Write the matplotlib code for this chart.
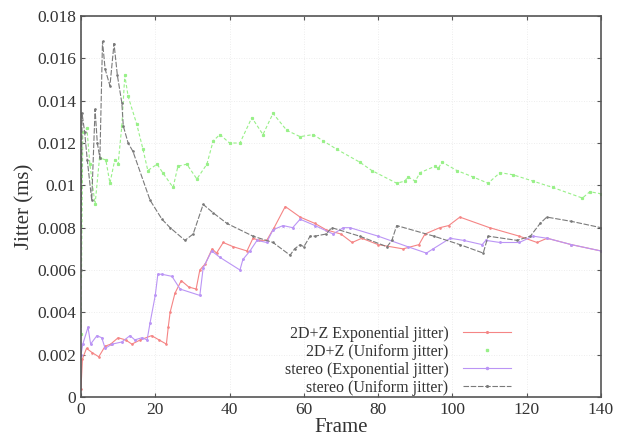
import numpy as np
import matplotlib
matplotlib.use("Agg")
from matplotlib import pyplot as plt
from matplotlib.lines import Line2D

# frame / jitter (ms) vertices
exp2d_x = [0, 0.4, 1.5, 3, 4.8, 6.5, 8, 10, 12, 13.7, 16, 19, 21, 23, 23.5, 24, 25.3, 27, 29, 31, 32,
           33.5, 35.3, 36.5, 38.3, 41, 44.7, 46.3, 48, 50, 52, 55, 59, 63, 66, 70, 73, 75.6, 80,
           86.7, 91, 92.6, 96.6, 99, 102, 110, 118, 122.8, 125.5, 132, 140]
exp2d_y = [0.0004, 0.0018, 0.0023, 0.0021, 0.0019, 0.0024, 0.0025, 0.0028, 0.0027, 0.0025, 0.0027,
           0.0029, 0.0027, 0.0025, 0.0033, 0.0040, 0.0049, 0.0055, 0.0052, 0.0051, 0.0060,
           0.0063, 0.0070, 0.0068, 0.0073, 0.0071, 0.0069, 0.0075, 0.0074, 0.0074, 0.0080, 0.0090,
           0.0085, 0.0082, 0.0079, 0.0077, 0.0073, 0.0075, 0.0072, 0.0070, 0.0072, 0.0077, 0.0080,
           0.0081, 0.0085, 0.0080, 0.0076, 0.0073, 0.0075, 0.0072, 0.0069]

uni2d_x = [0, 0.5, 1.6, 2.4, 3.8, 5, 6.7, 7.8, 9.1, 10, 11, 11.8, 12.7, 15, 16.7, 18, 20.5, 22, 24.8,
           26.1, 28.5, 31.2, 33.9, 35.6, 37.4, 40, 42.8, 46, 49, 51.7, 55.4, 59, 62.5, 65.2, 68.9,
           75, 78.3, 85, 87.2, 88, 90, 91.3, 95.3, 96.2, 97.2, 101.2, 105.5, 109.6, 112.8, 116.3,
           121.7, 127, 135, 137, 140]
uni2d_y = [0.0030, 0.0125, 0.0127, 0.0110, 0.0091, 0.0113, 0.0112, 0.0101, 0.0112, 0.0110, 0.0128,
           0.0152, 0.0142, 0.0129, 0.0117, 0.0107, 0.0110, 0.0106, 0.0099, 0.0109, 0.0110, 0.0103,
           0.0110, 0.0121, 0.0124, 0.0120, 0.0120, 0.0132, 0.0124, 0.0134, 0.0126, 0.0123, 0.0124,
           0.0121, 0.0117, 0.0111, 0.0107, 0.0101, 0.0102, 0.0104, 0.0102, 0.0106, 0.0109, 0.0108,
           0.0111, 0.0107, 0.0104, 0.0101, 0.0106, 0.0105, 0.0102, 0.0099, 0.0094, 0.0097, 0.0096]

exps_x = [0, 0.5, 1.9, 2.6, 4.3, 5.6, 6.5, 8.4, 11, 13.2, 14.5, 16.4, 17.8, 18.6, 20, 20.7, 21.8,
          24.5, 26.7, 32, 32.9, 35.2, 37.4, 42.8, 43.6, 45.5, 47.4, 50, 51.7, 54.4, 57, 59, 63,
          67.9, 70.6, 72.4, 80, 88, 93, 94.8, 99.4, 103, 108, 109, 112.8, 118, 121.7, 125.5, 132, 140]
exps_y = [0.0020, 0.0025, 0.0033, 0.0025, 0.0029, 0.0028, 0.0023, 0.0025, 0.0026, 0.0029, 0.0027,
          0.0028, 0.0027, 0.0035, 0.0048, 0.0058, 0.0058, 0.0057, 0.0051, 0.0048, 0.0061, 0.0069,
          0.0066, 0.0060, 0.0065, 0.0069, 0.0074, 0.0073, 0.0079, 0.0081, 0.0080, 0.0084, 0.0081,
          0.0077, 0.0080, 0.0080, 0.0076, 0.0071, 0.0068, 0.0070, 0.0075, 0.0074, 0.0072, 0.0074,
          0.0073, 0.0073, 0.0076, 0.0075, 0.0072, 0.0069]

unis_x = [0, 0.3, 1, 1.7, 2.9, 3.8, 4.4, 5.1, 5.8, 6.5, 7.8, 8.9, 9.8, 11, 11.4, 12.7, 14, 18.6,
          21.8, 24, 28, 30.2, 32.9, 35.6, 39.3, 46.3, 51.7, 56.3, 57.5, 59, 60, 61.7, 63, 66,
          67.5, 75, 82.4, 83.7, 85, 95, 102, 108.3, 109.6, 117.4, 121, 123.6, 125.4, 132, 140]
unis_y = [0.0060, 0.0134, 0.0125, 0.0112, 0.0093, 0.0136, 0.0120, 0.0113, 0.0168, 0.0155, 0.0147,
          0.0167, 0.0152, 0.0139, 0.0128, 0.0120, 0.0116, 0.0093, 0.0084, 0.0080, 0.0074, 0.0077,
          0.0091, 0.0087, 0.0082, 0.0076, 0.0073, 0.0067, 0.0070, 0.0072, 0.0071, 0.0076, 0.0076,
          0.0077, 0.0080, 0.0076, 0.0071, 0.0074, 0.0081, 0.0076, 0.0072, 0.0068, 0.0076, 0.0074,
          0.0076, 0.0082, 0.0085, 0.0083, 0.0080]

labels = ["2D+Z Exponential jitter)", "2D+Z (Uniform jitter)",
          "stereo (Exponential jitter)", "stereo (Uniform jitter)"]

red, green, purple, gray = '#f58585', '#98f088', '#bb95f5', '#7a7a7a'

plt.rcParams['font.family'] = ['Liberation Serif', 'DejaVu Serif']

fig = plt.figure(figsize=(6.18, 4.36), dpi=100)
ax = fig.add_axes([0.131, 0.0894, 0.8415, 0.8739])

ax.plot(exp2d_x, exp2d_y, color=red, lw=0.8, marker='.', ms=1.8)
ax.plot(uni2d_x, uni2d_y, color=green, lw=0.8, ls=(0, (3, 2)), marker='s', ms=1.3)
ax.plot(exps_x, exps_y, color=purple, lw=0.8, marker='.', ms=2.2)
ax.plot(unis_x, unis_y, color=gray, lw=0.8, ls=(0, (5, 1.5)), marker='.', ms=1.8)

ax.set_xlim(0, 140)
ax.set_ylim(0, 0.018)
ax.set_xticks(np.arange(0, 141, 20))
ax.set_yticks(np.arange(0, 0.0181, 0.002))
ax.set_yticklabels(['0', '0.002', '0.004', '0.006', '0.008', '0.01', '0.012', '0.014',
                    '0.016', '0.018'])
ax.tick_params(direction='in', top=True, right=True, length=3, labelsize=12.5,
               color='#555555', labelcolor='#333333')
ax.grid(True, color='#e8e8e8', lw=0.6, ls=(0, (1, 2)))
for s in ax.spines.values():
    s.set_color('#555555')
    s.set_linewidth(1.2)

ax.set_xlabel('Frame', fontsize=15, color='#333333', labelpad=0)
ax.set_ylabel('Jitter (ms)', fontsize=15, color='#333333', labelpad=2)

# legend handles: the uniform 2D+Z entry shows only a point, as in the original
handles = [Line2D([], [], color=red, lw=0.8, marker='.', ms=2.5),
           Line2D([], [], color=green, ls='none', marker='s', ms=2),
           Line2D([], [], color=purple, lw=0.8, marker='.', ms=3),
           Line2D([], [], color=gray, lw=0.8, ls=(0, (5, 1.5)), marker='.', ms=2.5)]
leg = ax.legend(handles, labels, loc='lower right', bbox_to_anchor=(0.845, -0.022),
                frameon=False, fontsize=11.5, markerfirst=False, handlelength=3.0,
                handletextpad=0.9, labelspacing=0.12, borderaxespad=0.2)
for t in leg.get_texts():
    t.set_color('#333333')

fig.savefig('out.png', dpi=100)
